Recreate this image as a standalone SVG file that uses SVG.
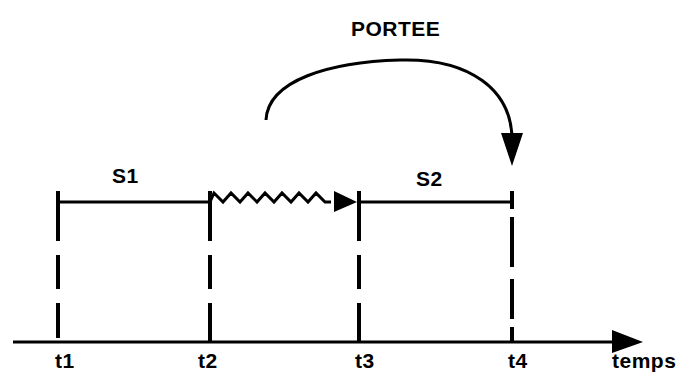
<svg xmlns="http://www.w3.org/2000/svg" width="687" height="376" viewBox="0 0 687 376">
<style>
text{font-family:"Liberation Sans",Arial,sans-serif;font-weight:bold;font-size:21px;fill:#000;letter-spacing:0.5px}
.ln{stroke:#000;stroke-width:3;fill:none}
.dash{stroke:#000;stroke-width:4;fill:none;stroke-dasharray:50 14 34 14}
</style>
<rect width="687" height="376" fill="#fff"/>
<g id="connectors">
<line class="ln" x1="13" y1="342" x2="618" y2="342"/>
<path d="M612,330 L643,342 L612,353 z" fill="#000"/>
<line class="ln" x1="58" y1="202" x2="210" y2="202"/>
<path class="ln" d="M210,202 l4,-9 l9,9 l8,-9 l9,9 l8,-9 l9,9 l8,-9 l9,9 l8,-9 l9,9 l8,-9 l9,9 l8,-9 l9,9 l6,0"/>
<path d="M334,191 L357,202 L334,212 z" fill="#000"/>
<line class="ln" x1="359" y1="202" x2="512" y2="202"/>
<path class="ln" d="M266,120 C268,80 330,62 400,60 C470,58 512,90 512,140"/>
<path d="M501,133 L523,133 L512,166 z" fill="#000"/>
</g>
<g id="t1"><line class="dash" x1="58" y1="191" x2="58" y2="338"/><text x="55" y="368">t1</text></g>
<g id="t2"><line class="dash" x1="210" y1="191" x2="210" y2="342"/><text x="198" y="368">t2</text></g>
<g id="t3"><line class="dash" x1="359" y1="191" x2="359" y2="342"/><text x="355" y="368">t3</text></g>
<g id="t4"><line class="dash" x1="512" y1="191" x2="512" y2="342" style="stroke-dasharray:18 8 50 12 40 8 30"/><text x="508" y="368">t4</text></g>
<g id="temps"><text x="612" y="368">temps</text></g>
<g id="S1"><text x="112" y="183">S1</text></g>
<g id="S2"><text x="416" y="186">S2</text></g>
<g id="PORTEE"><text x="351" y="36">PORTEE</text></g>
</svg>
